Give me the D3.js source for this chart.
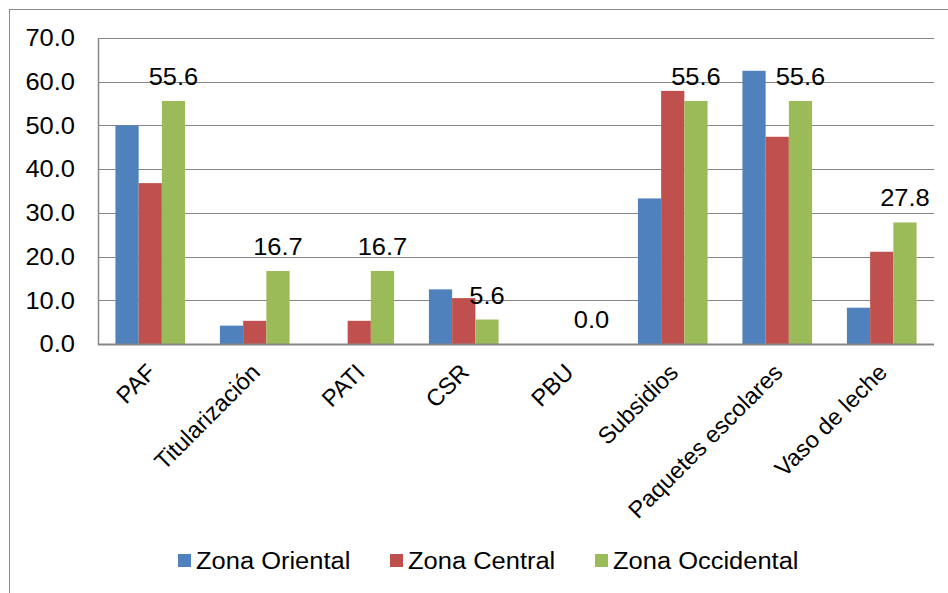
<!DOCTYPE html>
<html><head><meta charset="utf-8">
<script src="https://cdn.jsdelivr.net/npm/d3@7"></script>
<style>
html,body{margin:0;padding:0;background:#fff;}
svg text{font-family:"Liberation Sans",Arial,sans-serif;fill:#000;}
</style></head>
<body>
<svg id="chart" width="948" height="593"></svg>
<script>
const categories = ["PAF","Titularización","PATI","CSR","PBU","Subsidios","Paquetes escolares","Vaso de leche"];
const seriesNames = ["Zona Oriental","Zona Central","Zona Occidental"];
const oriental = [50.0, 4.2, 0.0, 12.5, 0.0, 33.3, 62.5, 8.3];
const central = [36.8, 5.3, 5.3, 10.5, 0.0, 57.9, 47.4, 21.1];
const occidental = [55.6, 16.7, 16.7, 5.6, 0.0, 55.6, 55.6, 27.8];
const yTicks = [0,10,20,30,40,50,60,70];
const colors = ["#4F81BD","#C0504D","#9BBB59"];

(function(){
const allSeries = [oriental, central, occidental];
const svg = d3.select("#chart");
const FS = "23.5px", SX = 1.085;

// chart border
svg.append("rect").attr("x",9.5).attr("y",9.5).attr("width",960).attr("height",620)
  .attr("fill","#fff").attr("stroke","#8c8c8c").attr("stroke-width",1);

const pL = 98, pR = 934, pT = 38, pB = 344;
const x = d3.scaleBand().domain(categories).range([pL,pR]).paddingInner(0).paddingOuter(0);
const y = d3.scaleLinear().domain([0,70]).range([pB,pT]);
// gap width 150%: bar width = band/4.5
const bw = x.bandwidth()/4.5;
const xs = d3.scaleBand().domain(d3.range(3)).range([0.75*bw, 3.75*bw]);

// gridlines
svg.append("g").selectAll("line").data(yTicks.filter(t=>t>0)).join("line")
  .attr("x1",pL).attr("x2",pR)
  .attr("y1",d=>Math.round(y(d))+0.5).attr("y2",d=>Math.round(y(d))+0.5)
  .attr("stroke","#878787").attr("stroke-width",1);

// y axis labels
svg.append("g").selectAll("text").data(yTicks).join("text")
  .attr("transform",d=>`translate(75,${y(d)}) scale(${SX},1)`)
  .attr("dy","0.35em")
  .attr("text-anchor","end").attr("font-size",FS)
  .text(d=>d3.format(".1f")(d));

// bars
allSeries.forEach((vals,si)=>{
  svg.append("g").selectAll("rect").data(vals).join("rect")
    .attr("x",(d,i)=>x(categories[i])+xs(si))
    .attr("width",xs.bandwidth())
    .attr("y",d=>y(d))
    .attr("height",d=>y(0)-y(d))
    .attr("fill",colors[si]);
});

// axes lines
svg.append("line").attr("x1",pL+0.5).attr("x2",pL+0.5).attr("y1",pT).attr("y2",pB+1)
  .attr("stroke","#878787").attr("stroke-width",1.5);
svg.append("line").attr("x1",pL).attr("x2",pR).attr("y1",pB+0.5).attr("y2",pB+0.5)
  .attr("stroke","#878787").attr("stroke-width",1.8);

// data labels on occidental
svg.append("g").selectAll("text").data(occidental).join("text")
  .attr("transform",(d,i)=>`translate(${x(categories[i])+xs(2)+xs.bandwidth()/2},${y(d)-16}) scale(${SX},1)`)
  .attr("text-anchor","middle").attr("font-size",FS)
  .text(d=>d3.format(".1f")(d));

// category labels
svg.append("g").selectAll("text").data(categories).join("text")
  .attr("text-anchor","end").attr("font-size",FS)
  .attr("transform",d=>`translate(${x(d)+x.bandwidth()/2+1},${pB+24}) rotate(-45)`)
  .attr("dy","0.35em")
  .text(d=>d);

// legend
const legX = [178, 390, 595];
const lg = svg.append("g");
seriesNames.forEach((n,i)=>{
  lg.append("rect").attr("x",legX[i]).attr("y",554).attr("width",13).attr("height",13).attr("fill",colors[i]);
  lg.append("text").attr("transform",`translate(${legX[i]+18},569) scale(${SX},1)`)
    .attr("font-size",FS).text(n);
});
})();
</script>
</body></html>
